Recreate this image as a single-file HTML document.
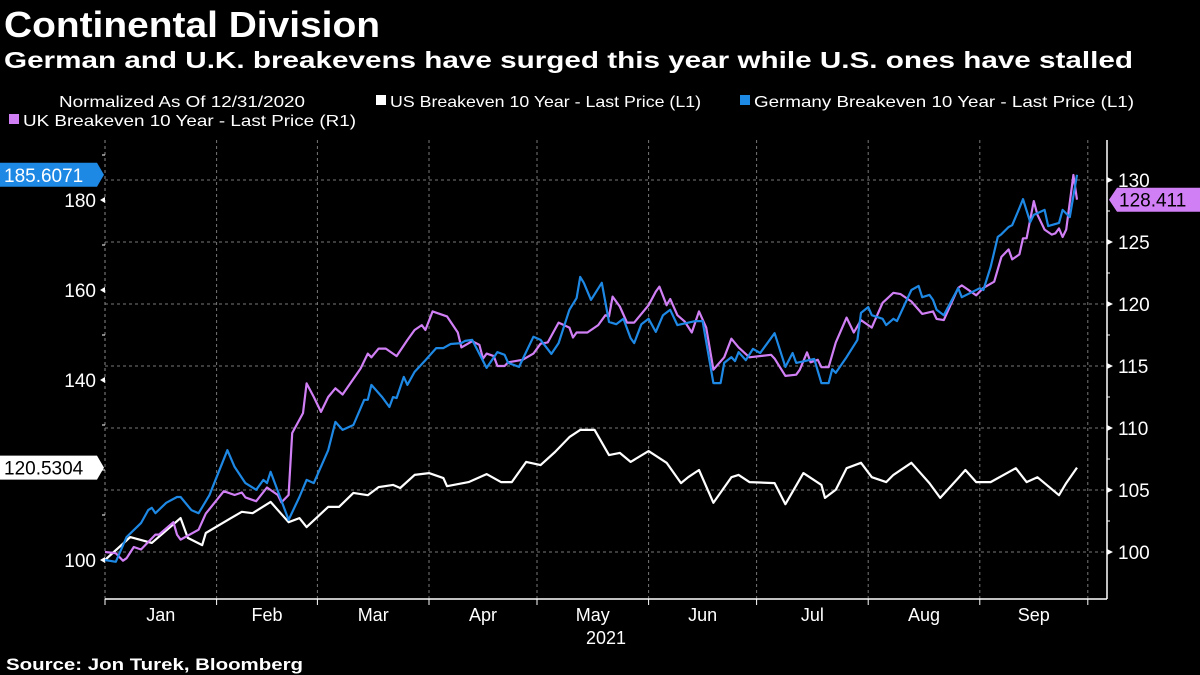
<!DOCTYPE html>
<html><head><meta charset="utf-8"><style>
html,body{margin:0;padding:0;background:#000;}
svg{display:block;font-family:"Liberation Sans",sans-serif;}
</style></head><body>
<svg id="chart" width="1200" height="675" viewBox="0 0 1200 675">
<rect width="1200" height="675" fill="#000"/>
<text x="4" y="37" font-size="36" font-weight="bold" fill="#fff" textLength="376" lengthAdjust="spacingAndGlyphs">Continental Division</text>
<text x="4" y="68" font-size="23" font-weight="bold" fill="#fff" textLength="1129" lengthAdjust="spacingAndGlyphs">German and U.K. breakevens have surged this year while U.S. ones have stalled</text>
<g font-size="16" fill="#fff">
<text x="59" y="107" textLength="246" lengthAdjust="spacingAndGlyphs">Normalized As Of 12/31/2020</text>
<g><rect x="376" y="95" width="10" height="10" fill="#fff"/><text x="390" y="107" textLength="311" lengthAdjust="spacingAndGlyphs">US Breakeven 10 Year - Last Price (L1)</text></g>
<g><rect x="740" y="95" width="10" height="10" fill="#1e88e5"/><text x="754" y="107" textLength="380" lengthAdjust="spacingAndGlyphs">Germany Breakeven 10 Year - Last Price (L1)</text></g>
<g><rect x="9" y="114" width="10" height="10" fill="#d17ff5"/><text x="23" y="126" textLength="333" lengthAdjust="spacingAndGlyphs">UK Breakeven 10 Year - Last Price (R1)</text></g>
</g>
<g id="grid"></g>
<g id="axes"></g>
<g id="series"></g>
<g id="labels"></g>
<text x="606" y="644" font-size="18" fill="#fff" text-anchor="middle">2021</text>
<text x="6" y="670" font-size="17" font-weight="bold" fill="#fff" textLength="297" lengthAdjust="spacingAndGlyphs">Source: Jon Turek, Bloomberg</text>
</svg>
<script>
const monthLabels=["Jan","Feb","Mar","Apr","May","Jun","Jul","Aug","Sep"];
const monthStartDays=[0,31,59,90,120,151,181,212,243,273];
const leftTicks=[100,140,160,180];
const leftMinorTicks=[110,120,130,150,170,190];
const rightTicks=[100,105,110,115,120,125,130];
const rightMinorTicks=[102.5,107.5,112.5,117.5,122.5,127.5];
const lastLabels=["120.5304","185.6071","128.411"];

const usDays=[0,7,13,21,23,27,28,35,38,41,46,51,54,56,62,65,69,73,76,80,82,86,90,94,95,101,106,110,113,117,121,125,129,132,136,140,143,146,151,156,160,162,165,169,174,176,179,186,189,194,199,200,203,206,210,213,217,219,224,229,232,237,239,242,246,253,256,259,265,267,270];
const usValues=[100,105.1,103.8,109.3,104.9,103.3,106.0,109.3,110.7,110.4,112.9,108.4,109.3,107.3,111.8,111.8,114.9,114.4,116.2,116.7,116.0,118.9,119.3,118.2,116.4,117.3,119.1,117.3,117.3,121.8,121.1,124.0,127.3,128.9,128.9,123.3,123.8,121.8,124.2,121.6,117.1,118.4,120.0,112.7,118.4,118.9,117.3,117.1,112.4,119.3,116.7,113.8,115.6,120.4,121.6,118.4,117.3,118.9,121.6,117.1,113.8,118.2,120.0,117.3,117.3,120.4,117.3,118.4,114.4,117.1,120.53];

const deDays=[0,3,6,10,12,13,14,17,20,21,24,26,29,34,36,39,42,44,45,46,51,54,56,58,62,64,66,69,72,73,74,77,79,80,81,83,84,86,89,92,94,96,99,100,102,106,109,111,112,115,119,121,124,126,129,131,132,133,135,138,140,142,144,146,147,149,151,153,155,157,159,164,166,169,171,172,174,175,176,178,180,182,186,189,191,192,197,199,201,202,203,206,209,210,212,213,216,217,219,220,224,226,227,229,230,231,233,237,238,243,244,246,248,249,251,252,254,255,257,258,261,262,265,266,268,270];
const deValues=[100,99.6,105.1,108.2,111.1,111.6,110.4,112.7,114.0,114.0,111.1,110.4,114.4,124.4,120.7,117.1,115.6,117.8,117.1,119.6,108.9,114.0,117.8,117.1,124.4,130.7,128.9,130.0,135.6,135.6,138.9,136.2,134.0,136.2,136.0,140.7,138.9,141.8,144.4,147.1,147.1,148.0,148.2,148.7,148.9,142.7,146.2,145.6,143.8,142.9,149.6,148.9,145.8,148.2,155.6,158.2,162.9,161.6,157.8,161.6,152.9,152.4,153.6,149.3,148.2,152.4,153.6,150.7,154.4,155.6,152.2,153.1,153.1,139.3,139.3,143.8,145.1,144.2,146.2,144.4,146.9,146.0,150.4,142.9,146.0,143.8,144.7,139.3,139.3,142.4,141.6,145.1,148.9,154.9,156.2,154.4,153.6,152.2,153.6,153.1,160.0,160.9,158.4,158.9,157.8,155.6,154.4,160.4,158.4,160.4,160.0,165.1,171.8,172.4,174.0,174.4,178.2,180.2,175.1,176.7,177.8,174.2,174.9,177.8,176.2,185.61];

const ukDays=[0,3,5,6,8,10,14,15,19,20,21,26,28,33,36,38,39,42,45,48,49,51,52,55,56,58,60,62,64,66,71,73,74,76,78,81,84,86,88,89,91,95,98,99,102,104,105,106,108,109,111,112,116,119,121,123,126,129,130,131,134,137,139,140,141,143,145,147,151,153,154,156,157,159,161,163,165,167,169,172,174,176,179,185,186,189,192,193,195,196,198,199,201,203,206,208,210,213,216,219,221,224,227,230,231,233,237,238,242,244,247,249,251,252,254,255,256,258,259,261,263,264,265,266,267,269,270];
const ukValues=[100.0,99.9,99.3,99.5,100.4,100.2,101.4,101.4,102.4,101.4,101.0,101.8,103.1,104.9,104.6,104.8,104.4,104.1,105.2,104.6,104.0,104.6,109.6,111.2,113.6,112.5,111.3,112.5,113.2,112.7,114.8,116.0,115.7,116.4,116.4,115.8,117.1,117.9,118.3,117.9,119.4,119.0,117.7,116.5,117.0,116.7,115.6,116.0,115.8,115.0,115.0,115.3,115.5,116.0,116.8,116.9,118.5,118.1,117.3,117.7,117.7,118.3,119.1,119.0,120.6,119.8,118.5,118.5,119.9,121.0,121.4,119.9,120.4,119.1,118.6,117.7,119.4,118.1,114.7,115.7,117.2,116.5,115.7,115.9,115.6,114.2,114.3,114.7,116.1,115.3,115.5,114.9,114.9,116.9,118.9,117.7,118.7,118.1,120.1,120.9,120.8,120.2,119.2,119.4,118.8,118.7,121.3,121.5,120.7,121.3,121.8,123.8,124.4,123.6,124.0,125.3,125.3,128.3,127.2,126.0,125.6,125.7,126.1,125.4,126.0,130.4,128.411];

const NS="http://www.w3.org/2000/svg";
const X0=105,X1=1107,PX_PER_DAY=3.6;
function xScale(d){return X0+d*PX_PER_DAY;}
function yLeft(v){return 560-(v-100)*4.5;}
function yRight(v){return 552-(v-100)*12.4;}
function mk(tag,attrs,parent){const e=document.createElementNS(NS,tag);for(const k in attrs)e.setAttribute(k,attrs[k]);parent.appendChild(e);return e;}
const grid=document.getElementById('grid'),axes=document.getElementById('axes'),series=document.getElementById('series'),labels=document.getElementById('labels');

rightTicks.forEach(v=>{const l=mk('line',{x1:X0,x2:X1,y1:yRight(v),y2:yRight(v),stroke:'#777','stroke-width':1,'stroke-dasharray':'3,3'},grid);

});
monthStartDays.slice(1).forEach(d=>{const l=mk('line',{x1:xScale(d),x2:xScale(d),y1:140,y2:599,stroke:'#777','stroke-width':1,'stroke-dasharray':'3,3'},grid);

});
const la=mk('line',{x1:X0,x2:X0,y1:140,y2:599,stroke:'#888','stroke-dasharray':'3,3'},axes);


const ra=mk('line',{x1:X1,x2:X1,y1:140,y2:599,stroke:'#fff','stroke-width':1.5},axes);


const ba=mk('line',{x1:X0,x2:X1,y1:599,y2:599,stroke:'#fff','stroke-width':1.5},axes);


monthStartDays.forEach(d=>{const t=mk('line',{x1:xScale(d),x2:xScale(d),y1:599,y2:605,stroke:'#fff'},axes);

});
monthLabels.forEach((m,i)=>{const t=mk('text',{x:(xScale(monthStartDays[i])+xScale(monthStartDays[i+1]))/2,y:621,'font-size':18,fill:'#fff','text-anchor':'middle'},axes);t.textContent=m;

});
leftTicks.forEach(v=>{const y=yLeft(v);
const p=mk('path',{d:`M${X0} ${y-3} L${X0-5} ${y} L${X0} ${y+3}Z`,fill:'#fff'},axes);


const t=mk('text',{x:X0-9,y:y+7,'font-size':19,fill:'#fff','text-anchor':'end'},axes);t.textContent=v;

});
leftMinorTicks.forEach(v=>{const l=mk('line',{x1:X0-3,x2:X0,y1:yLeft(v),y2:yLeft(v),stroke:'#fff'},axes);

});
rightTicks.forEach(v=>{const y=yRight(v);
const p=mk('path',{d:`M${X1} ${y-3} L${X1+6} ${y} L${X1} ${y+3}Z`,fill:'#fff'},axes);


const t=mk('text',{x:X1+11,y:y+7,'font-size':19,fill:'#fff'},axes);t.textContent=v;

});
rightMinorTicks.forEach(v=>{const l=mk('line',{x1:X1,x2:X1+3,y1:yRight(v),y2:yRight(v),stroke:'#fff'},axes);

});

function line(days,vals,yf,color,name){
 const d=days.map((dd,i)=>(i?'L':'M')+xScale(dd).toFixed(1)+' '+yf(vals[i]).toFixed(1)).join(' ');
 const p=mk('path',{d:d,fill:'none',stroke:color,'stroke-width':2.2,'stroke-linejoin':'round'},series);
 
 
}
line(usDays,usValues,yLeft,'#ffffff','us-breakeven-line');
line(ukDays,ukValues,yRight,'#d17ff5','uk-breakeven-line');
line(deDays,deValues,yLeft,'#1e88e5','germany-breakeven-line');

function leftLabel(v,txt,bg,fg,name){const y=yLeft(v);
 const p=mk('path',{d:`M0 ${y-12} L97 ${y-12} L104 ${y} L97 ${y+12} L0 ${y+12}Z`,fill:bg},labels);
 
 
 const t=mk('text',{x:4,y:y+7,'font-size':19,fill:fg},labels);t.textContent=txt;
 
 }
leftLabel(usValues[usValues.length-1],lastLabels[0],'#fff','#000','us-last-value-label');
leftLabel(deValues[deValues.length-1],lastLabels[1],'#1e88e5','#fff','germany-last-value-label');
(function(){const v=ukValues[ukValues.length-1],y=yRight(v);
 const p=mk('path',{d:`M1109 ${y} L1117 ${y-12} L1200 ${y-12} L1200 ${y+12} L1117 ${y+12}Z`,fill:'#d17ff5'},labels);
 
 
 const t=mk('text',{x:1119,y:y+7,'font-size':19,fill:'#000'},labels);t.textContent=lastLabels[2];
 
 })();
</script>
</body></html>
